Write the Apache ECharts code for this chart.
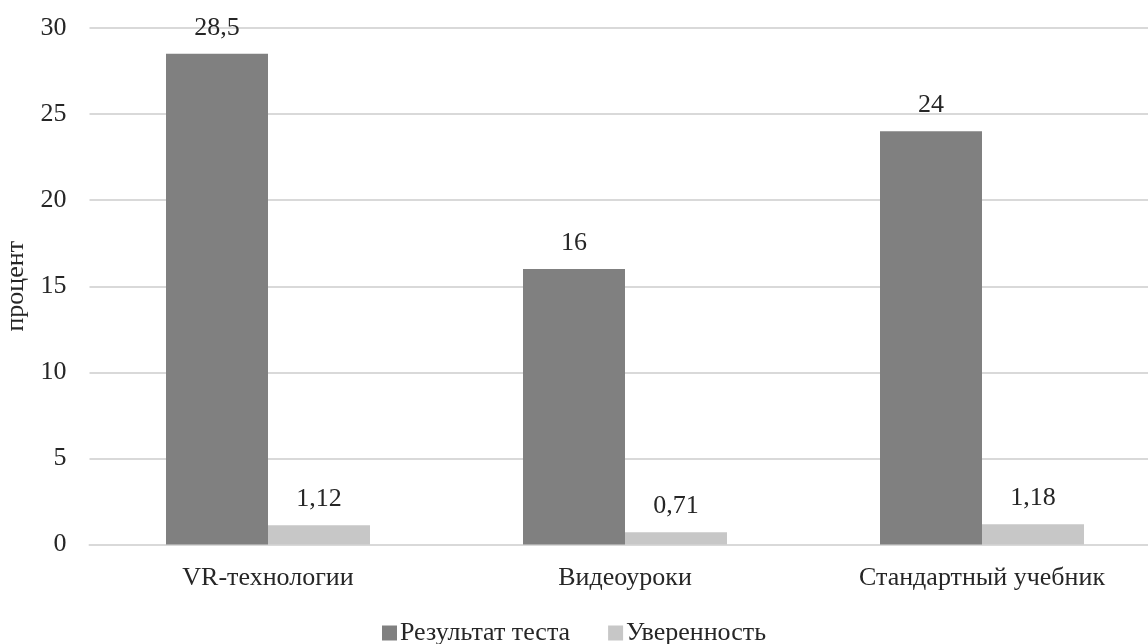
<!DOCTYPE html>
<html>
<head>
<meta charset="utf-8">
<script src="https://cdn.jsdelivr.net/npm/echarts@6/dist/echarts.min.js"></script>
<style>
  html, body { margin: 0; padding: 0; background: #fff; }
  #chart { width: 1148px; height: 644px; }
</style>
</head>
<body>
<div id="chart"></div>
<script>
// Категории и значения рядов
const categories = ['VR-технологии', 'Видеоуроки', 'Стандартный учебник'];
const testResult = [28.5, 16, 24];
const confidence = [1.12, 0.71, 1.18];
const seriesNames = ['Результат теста', 'Уверенность'];

const FONT = "'Liberation Serif', 'Times New Roman', serif";
const TEXT = '#262626';
const FS = 26;

// Подпись в формате с десятичной запятой
const fmt = v => String(v).replace('.', ',');

const chart = echarts.init(document.getElementById('chart'), null, { renderer: 'canvas' });

const barLabel = {
  show: true, position: 'top', distance: 13,
  fontFamily: FONT, fontSize: FS, color: TEXT,
  formatter: p => fmt(p.value)
};

chart.setOption({
  animation: false,
  textStyle: { fontFamily: FONT, color: TEXT },
  grid: {
    left: 89.5, top: 28, right: -12.5, bottom: 99.5,
    containLabel: false, outerBoundsMode: 'none'
  },
  legend: {
    bottom: -7,
    left: 'center',
    itemWidth: 15,
    itemHeight: 15,
    itemGap: 38,
    icon: 'rect',
    textStyle: { fontFamily: FONT, fontSize: FS, color: TEXT, padding: [0, 0, 0, -2] },
    data: seriesNames
  },
  xAxis: {
    type: 'category',
    data: categories,
    axisLine: { lineStyle: { color: '#d9d9d9', width: 2 } },
    axisTick: { show: false },
    axisLabel: { fontFamily: FONT, fontSize: FS, color: TEXT, margin: 21 }
  },
  yAxis: {
    type: 'value',
    min: 0,
    max: 30,
    interval: 5,
    name: 'процент',
    nameLocation: 'middle',
    nameGap: 47,
    nameTextStyle: { fontFamily: FONT, fontSize: FS, color: TEXT },
    axisLine: { show: false },
    axisTick: { show: false },
    axisLabel: { fontFamily: FONT, fontSize: FS, color: TEXT, margin: 23 },
    splitLine: { lineStyle: { color: '#d9d9d9', width: 2 } }
  },
  series: [
    {
      name: seriesNames[0],
      type: 'bar',
      data: testResult,
      barWidth: 102,
      barGap: '0%',
      itemStyle: { color: '#808080' },
      label: barLabel
    },
    {
      name: seriesNames[1],
      type: 'bar',
      data: confidence,
      barWidth: 102,
      barGap: '0%',
      itemStyle: { color: '#c7c7c7' },
      label: barLabel
    }
  ]
});
</script>
</body>
</html>
